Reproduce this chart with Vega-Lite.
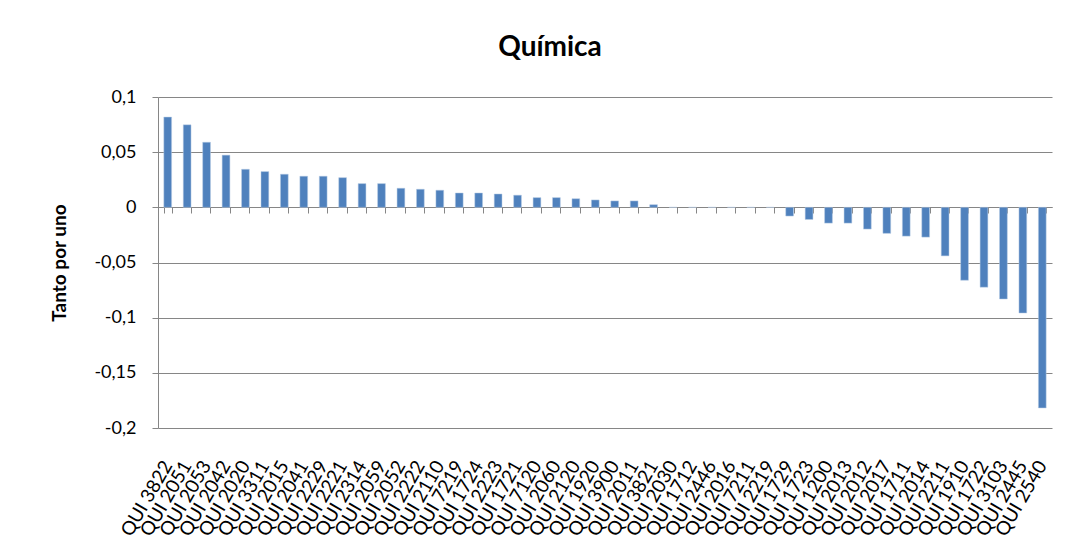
{
  "$schema": "https://vega.github.io/schema/vega-lite/v6.json",
  "autosize": "none",
  "width": 894,
  "height": 331,
  "padding": {"left": 158, "top": 97, "right": 16, "bottom": 132},
  "background": "#ffffff",
  "config": {
    "font": "Lato",
    "view": {"stroke": null}
  },
  "title": {
    "text": "Química",
    "font": "Lato",
    "fontSize": 28,
    "fontWeight": "bold",
    "color": "#000000",
    "offset": 26,
    "dx": -55,
    "anchor": "middle"
  },
  "data": {
    "values": [
      {"c": "QUI 3822", "v": 0.0818},
      {"c": "QUI 2051", "v": 0.0748},
      {"c": "QUI 2053", "v": 0.059},
      {"c": "QUI 2042", "v": 0.0473},
      {"c": "QUI 2020", "v": 0.0345},
      {"c": "QUI 3311", "v": 0.0324},
      {"c": "QUI 2015", "v": 0.030},
      {"c": "QUI 2041", "v": 0.0282},
      {"c": "QUI 2229", "v": 0.0282},
      {"c": "QUI 2221", "v": 0.0269},
      {"c": "QUI 2314", "v": 0.0215},
      {"c": "QUI 2059", "v": 0.0215},
      {"c": "QUI 2052", "v": 0.0173},
      {"c": "QUI 2222", "v": 0.0164},
      {"c": "QUI 2110", "v": 0.0155},
      {"c": "QUI 7219", "v": 0.013},
      {"c": "QUI 1724", "v": 0.013},
      {"c": "QUI 2223", "v": 0.0121},
      {"c": "QUI 1721", "v": 0.011},
      {"c": "QUI 7120", "v": 0.0088},
      {"c": "QUI 2060", "v": 0.0088},
      {"c": "QUI 2120", "v": 0.0078},
      {"c": "QUI 1920", "v": 0.0067},
      {"c": "QUI 3900", "v": 0.0058},
      {"c": "QUI 2011", "v": 0.0058},
      {"c": "QUI 3821", "v": 0.0024},
      {"c": "QUI 2030", "v": 0},
      {"c": "QUI 1712", "v": 0},
      {"c": "QUI 2446", "v": 0},
      {"c": "QUI 2016", "v": 0},
      {"c": "QUI 7211", "v": 0},
      {"c": "QUI 2219", "v": 0},
      {"c": "QUI 1729", "v": -0.0079},
      {"c": "QUI 1723", "v": -0.011},
      {"c": "QUI 1200", "v": -0.0143},
      {"c": "QUI 2013", "v": -0.0143},
      {"c": "QUI 2012", "v": -0.0197},
      {"c": "QUI 2017", "v": -0.0236},
      {"c": "QUI 1711", "v": -0.0261},
      {"c": "QUI 2014", "v": -0.027},
      {"c": "QUI 2211", "v": -0.044},
      {"c": "QUI 1910", "v": -0.0661},
      {"c": "QUI 1722", "v": -0.0724},
      {"c": "QUI 3103", "v": -0.0831},
      {"c": "QUI 2445", "v": -0.0958},
      {"c": "QUI 2540", "v": -0.1818}
    ]
  },
  "encoding": {
    "x": {
      "field": "c",
      "type": "nominal",
      "sort": null,
      "scale": {"paddingInner": 0.6, "paddingOuter": 0.3}
    },
    "y": {
      "field": "v",
      "type": "quantitative",
      "scale": {"domain": [-0.2, 0.1], "nice": false, "zero": false},
      "axis": {
        "values": [-0.2, -0.15, -0.1, -0.05, 0, 0.05, 0.1],
        "labelExpr": "replace(replace(format(datum.value, '~g'), '.', ','), '−', '-')",
        "title": "Tanto por uno",
        "titleFont": "Lato",
        "titleFontSize": 19,
        "titleFontWeight": "bold",
        "titleColor": "#000000",
        "titlePadding": 24,
        "labelFont": "Lato",
        "labelFontSize": 18,
        "labelColor": "#000000",
        "labelPadding": 16,
        "tickSize": 6,
        "tickColor": "#868686",
        "domainColor": "#868686",
        "gridColor": "#868686",
        "gridWidth": 1,
        "grid": true
      }
    }
  },
  "layer": [
    {
      "mark": {"type": "bar", "color": "#4F81BD", "stroke": "#B9CDE5", "strokeWidth": 0.5},
      "encoding": {
        "x": {
          "field": "c",
          "type": "nominal",
          "sort": null,
          "axis": {
            "title": null,
            "labelAngle": -60,
            "labelAlign": "right",
            "labelBaseline": "middle",
            "labelFont": "Lato",
            "labelFontSize": 19,
            "labelColor": "#000000",
            "labelPadding": 34,
            "ticks": false,
            "domain": false,
            "labelOverlap": false
          }
        }
      }
    },
    {
      "mark": {"type": "bar", "opacity": 0},
      "encoding": {
        "x": {
          "field": "c",
          "type": "nominal",
          "sort": null,
          "axis": {
            "orient": "top",
            "title": null,
            "labels": false,
            "ticks": true,
            "tickBand": "extent",
            "tickSize": -6,
            "tickColor": "#868686",
            "domain": true,
            "domainColor": "#868686",
            "offset": -110,
            "grid": false
          }
        }
      }
    }
  ],
  "resolve": {"axis": {"x": "independent"}}
}
